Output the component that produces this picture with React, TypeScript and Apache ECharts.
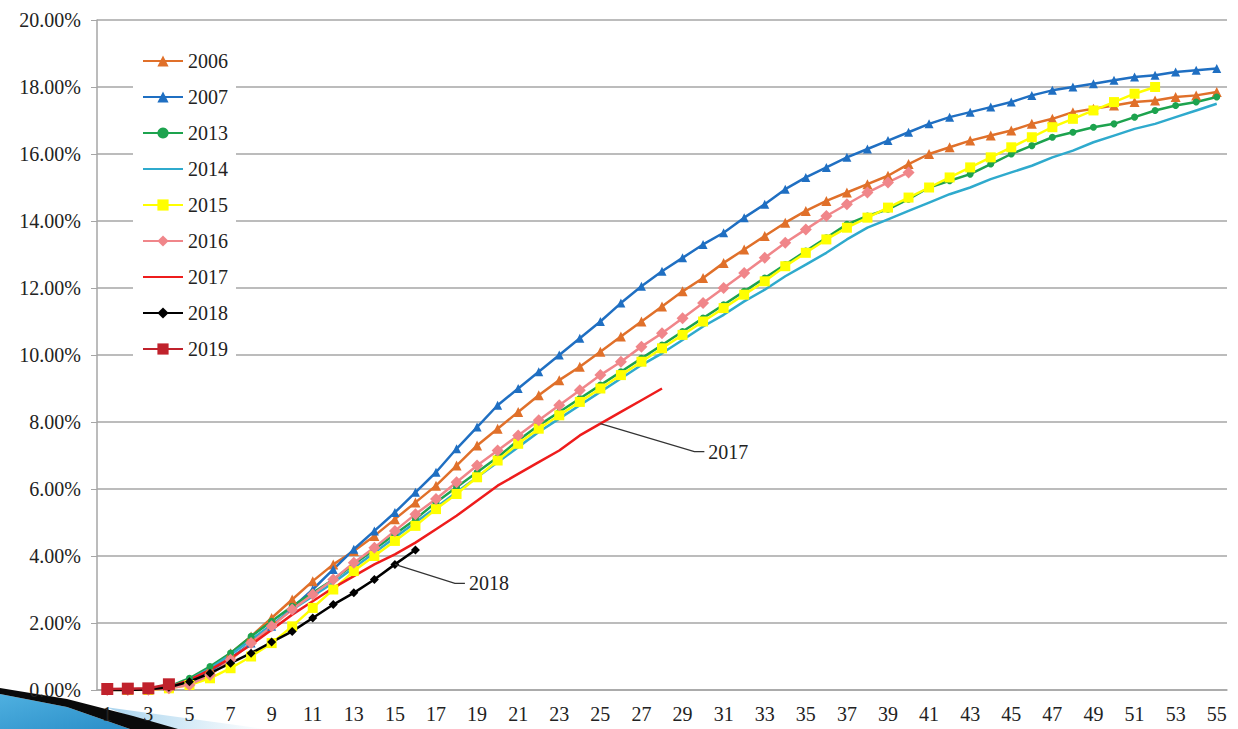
import React, { useEffect, useRef } from 'react';
import * as echarts from 'echarts';

const weeks: string[] = Array.from({ length: 55 }, (_, i) => String(i + 1));
const yTicks = [0, 2, 4, 6, 8, 10, 12, 14, 16, 18, 20];

const y2006 = [0, 0, 0.02, 0.1, 0.3, 0.65, 1.1, 1.6, 2.15, 2.7, 3.25, 3.75, 4.15, 4.6, 5.1, 5.6, 6.1, 6.7, 7.3, 7.8, 8.3, 8.8, 9.25, 9.65, 10.1, 10.55, 11.0, 11.45, 11.9, 12.3, 12.75, 13.15, 13.55, 13.95, 14.3, 14.6, 14.85, 15.1, 15.35, 15.7, 16.0, 16.2, 16.4, 16.55, 16.7, 16.9, 17.05, 17.25, 17.35, 17.45, 17.55, 17.6, 17.7, 17.75, 17.85];
const y2007 = [0, 0, 0.02, 0.08, 0.25, 0.55, 0.95, 1.4, 1.9, 2.45, 3.0, 3.6, 4.2, 4.75, 5.3, 5.9, 6.5, 7.2, 7.85, 8.5, 9.0, 9.5, 10.0, 10.5, 11.0, 11.55, 12.05, 12.5, 12.9, 13.3, 13.65, 14.1, 14.5, 14.95, 15.3, 15.6, 15.9, 16.15, 16.4, 16.65, 16.9, 17.1, 17.25, 17.4, 17.55, 17.75, 17.9, 18.0, 18.1, 18.2, 18.3, 18.35, 18.45, 18.5, 18.55];
const y2013 = [0, 0, 0.02, 0.1, 0.35, 0.7, 1.1, 1.6, 2.05, 2.5, 2.9, 3.3, 3.75, 4.2, 4.65, 5.1, 5.6, 6.05, 6.5, 6.95, 7.45, 7.9, 8.3, 8.7, 9.1, 9.5, 9.9, 10.3, 10.7, 11.1, 11.5, 11.9, 12.3, 12.7, 13.1, 13.5, 13.9, 14.15, 14.35, 14.65, 15.0, 15.2, 15.4, 15.7, 16.0, 16.25, 16.5, 16.65, 16.8, 16.9, 17.1, 17.3, 17.45, 17.55, 17.7];
const y2014 = [0, 0, 0.02, 0.08, 0.3, 0.65, 1.05, 1.5, 1.95, 2.4, 2.8, 3.2, 3.65, 4.1, 4.55, 5.0, 5.45, 5.9, 6.35, 6.8, 7.25, 7.7, 8.1, 8.5, 8.9, 9.3, 9.7, 10.05, 10.45, 10.85, 11.2, 11.6, 11.95, 12.35, 12.7, 13.05, 13.45, 13.8, 14.05, 14.3, 14.55, 14.8, 15.0, 15.25, 15.45, 15.65, 15.9, 16.1, 16.35, 16.55, 16.75, 16.9, 17.1, 17.3, 17.5];
const y2015 = [0, 0, 0, 0.05, 0.15, 0.35, 0.65, 1.0, 1.4, 1.9, 2.45, 3.0, 3.55, 4.0, 4.45, 4.9, 5.4, 5.85, 6.35, 6.85, 7.35, 7.8, 8.2, 8.6, 9.0, 9.4, 9.8, 10.2, 10.6, 11.0, 11.4, 11.8, 12.2, 12.65, 13.05, 13.45, 13.8, 14.1, 14.4, 14.7, 15.0, 15.3, 15.6, 15.9, 16.2, 16.5, 16.8, 17.05, 17.3, 17.55, 17.8, 18.0];
const y2016 = [0, 0, 0.01, 0.05, 0.15, 0.45, 0.9, 1.4, 1.9, 2.4, 2.85, 3.3, 3.8, 4.25, 4.75, 5.25, 5.7, 6.2, 6.7, 7.15, 7.6, 8.05, 8.5, 8.95, 9.4, 9.8, 10.25, 10.65, 11.1, 11.55, 12.0, 12.45, 12.9, 13.35, 13.75, 14.15, 14.5, 14.85, 15.15, 15.45];
const y2017 = [0, 0, 0.02, 0.08, 0.3, 0.6, 0.95, 1.35, 1.8, 2.25, 2.65, 3.05, 3.4, 3.75, 4.05, 4.4, 4.8, 5.2, 5.65, 6.1, 6.45, 6.8, 7.15, 7.6, 7.95, 8.3, 8.65, 9.0];
const y2018 = [0, 0, 0.02, 0.08, 0.25, 0.5, 0.8, 1.1, 1.43, 1.75, 2.15, 2.55, 2.9, 3.3, 3.75, 4.18];
const y2019 = [0.03, 0.04, 0.05, 0.17];

const FONT = "'Liberation Serif', 'Times New Roman', serif";

export default function App() {
  const ref = useRef<HTMLDivElement>(null);
  useEffect(() => {
    document.body.style.margin = '0';
    const chart = echarts.init(ref.current!, undefined, { renderer: 'svg' });
    const mk = (name: string, data: number[], color: string, symbol: string, size: number, width = 2.5) => ({
      name,
      type: 'line',
      data,
      symbol,
      symbolSize: size,
      showSymbol: symbol !== 'none',
      lineStyle: { color, width },
      itemStyle: { color },
      emphasis: { disabled: true },
    });
    const lineOnly = { itemStyle: { opacity: 0 } };
    chart.setOption({
      animation: false,
      backgroundColor: '#ffffff',
      grid: { left: 97, right: 11, top: 20, bottom: 39 },
      legend: {
        orient: 'vertical',
        left: 133,
        top: 41,
        padding: [10, 8, 10, 9],
        backgroundColor: '#ffffff',
        itemWidth: 40,
        itemHeight: 14,
        itemGap: 16,
        textStyle: { fontFamily: FONT, fontSize: 20, lineHeight: 20, color: '#222' },
        data: [
          { name: '2006' },
          { name: '2007' },
          { name: '2013' },
          { name: '2014', ...lineOnly },
          { name: '2015' },
          { name: '2016' },
          { name: '2017', ...lineOnly },
          { name: '2018' },
          { name: '2019' },
        ],
      },
      xAxis: {
        type: 'category',
        data: weeks,
        boundaryGap: true,
        axisLine: { lineStyle: { color: '#a6a6a6', width: 1.5 } },
        axisTick: { interval: 2, length: 5, lineStyle: { color: '#a6a6a6' } },
        axisLabel: { interval: 1, fontFamily: FONT, fontSize: 20, color: '#222', margin: 14 },
        splitLine: { show: false },
      },
      yAxis: {
        type: 'value',
        min: yTicks[0],
        max: yTicks[yTicks.length - 1],
        interval: 2,
        axisLine: { show: true, lineStyle: { color: '#a6a6a6', width: 1.5 } },
        axisTick: { show: true, length: 6, lineStyle: { color: '#a6a6a6' } },
        axisLabel: {
          fontFamily: FONT,
          fontSize: 20,
          color: '#222',
          margin: 16,
          formatter: (v: number) => v.toFixed(2) + '%',
        },
        splitLine: { lineStyle: { color: '#a6a6a6', width: 1.5 } },
      },
      series: [
        mk('2006', y2006, '#E0702A', 'triangle', 10),
        mk('2007', y2007, '#1F6FC2', 'triangle', 9),
        mk('2013', y2013, '#1DA34E', 'circle', 7),
        mk('2014', y2014, '#2FAACD', 'none', 0),
        mk('2015', y2015, '#FFFF00', 'rect', 10),
        mk('2016', y2016, '#F0868A', 'diamond', 12),
        mk('2017', y2017, '#EE1C1C', 'none', 0),
        mk('2018', y2018, '#000000', 'diamond', 9),
        mk('2019', y2019, '#C0222C', 'rect', 12),
      ],
    });

    const p17 = chart.convertToPixel({ gridIndex: 0 }, [24, y2017[24]]) as number[];
    const p18 = chart.convertToPixel({ gridIndex: 0 }, [14, y2018[14]]) as number[];
    const leader = (p: number[], dx: number, dy: number, label: string) => [
      {
        type: 'polyline',
        shape: { points: [[p[0], p[1]], [p[0] + dx, p[1] + dy], [p[0] + dx + 10, p[1] + dy]] },
        style: { stroke: '#333', lineWidth: 1.2, fill: 'none' },
        z: 10,
      },
      {
        type: 'text',
        x: p[0] + dx + 14,
        y: p[1] + dy,
        style: { text: label, font: `20px ${FONT}`, fill: '#222', verticalAlign: 'middle' },
        z: 10,
      },
    ];
    chart.setOption({
      graphic: [
        {
          type: 'polygon',
          shape: { points: [[105, 707], [265, 729], [165, 729]] },
          style: {
            fill: new echarts.graphic.LinearGradient(0, 0, 1, 0, [
              { offset: 0, color: '#a9d4ee' },
              { offset: 1, color: '#ffffff' },
            ]),
          },
          z: -1,
        },
        {
          type: 'polygon',
          shape: { points: [[0, 694], [67, 707], [130, 729], [0, 729]] },
          style: {
            fill: new echarts.graphic.LinearGradient(0, 0, 1, 1, [
              { offset: 0, color: '#4fb0e0' },
              { offset: 1, color: '#2a8ec8' },
            ]),
          },
          z: -1,
        },
        {
          type: 'polygon',
          shape: { points: [[0, 688], [67, 699], [133, 716], [178, 729], [130, 729], [67, 707], [0, 694]] },
          style: { fill: '#0a0a0a' },
          z: -1,
        },
        ...leader(p17, 94, 28, '2017'),
        ...leader(p18, 60, 19, '2018'),
      ],
    });
    return () => chart.dispose();
  }, []);
  return <div ref={ref} style={{ width: 1238, height: 729 }} />;
}
